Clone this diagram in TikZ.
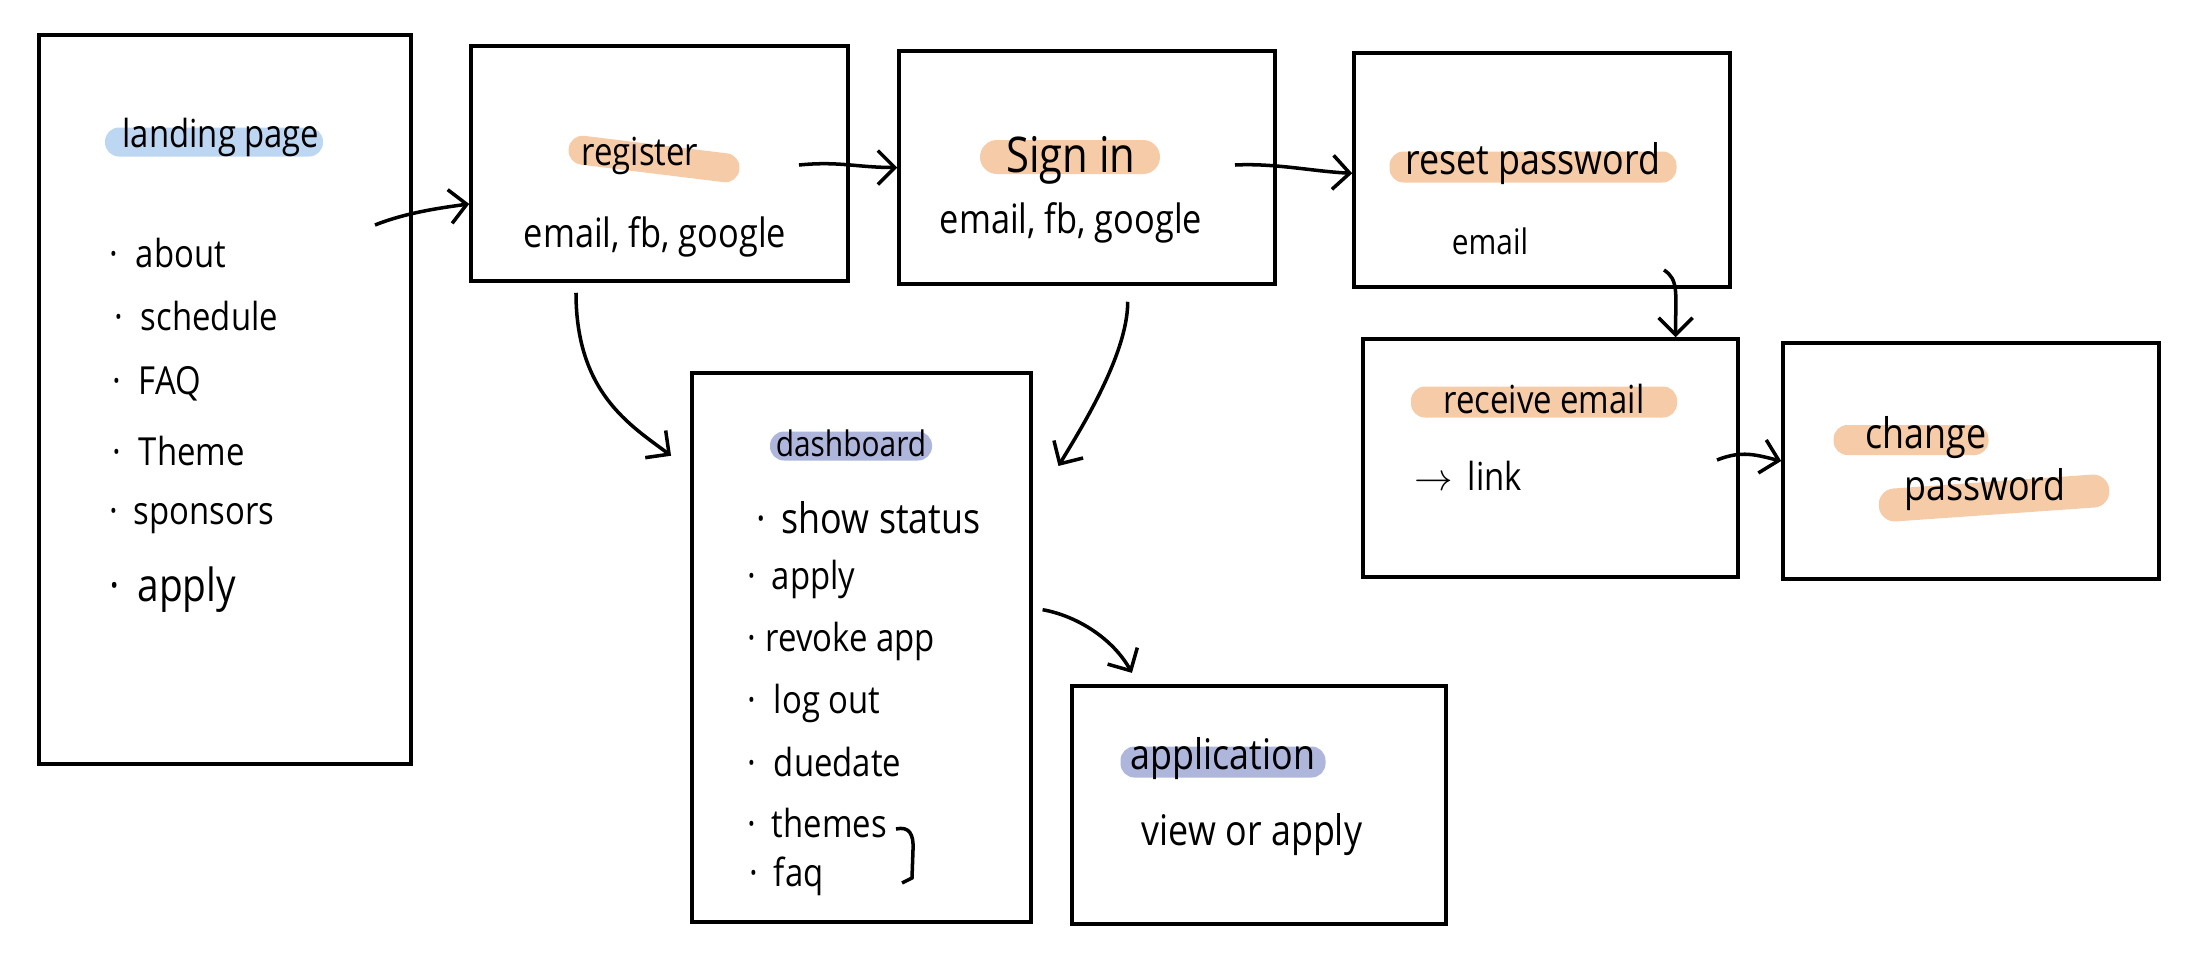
\documentclass[tikz,border=0pt]{standalone}
\usepackage{fontspec}
\setmainfont{Open Sans}[FakeStretch=0.85]
\usetikzlibrary{arrows.meta}
\definecolor{hlblue}{HTML}{BDD7F2}
\definecolor{hlpeach}{HTML}{F6CBA7}
\definecolor{hlviolet}{HTML}{AEB6DC}

\tikzset{
	screen/.style={draw, line width=1pt, inner sep=0pt},
	hl/.style={rounded corners=1.4mm, inner sep=0pt, minimum height=2.9mm},
	word/.style={font=\fontsize{11}{13}\selectfont, inner sep=1pt},
	item/.style={word, anchor=west},
	flow/.style={line width=1pt, -{Straight Barb[length=1.7mm,width=3.4mm]}},
}

\begin{document}
\begin{tikzpicture}[x=0.1mm, y=-0.1mm]
		\useasboundingbox (0,0) rectangle (2205,960);
		
		% screens
		\node[screen, minimum width=37.2mm, minimum height=72.9mm] (landing) at (225,399.5) {};
		\node[screen, minimum width=37.7mm, minimum height=23.5mm] (register) at (659.5,163.5) {};
		\node[screen, minimum width=37.6mm, minimum height=23.3mm] (signin) at (1087,167.5) {};
		\node[screen, minimum width=37.6mm, minimum height=23.4mm] (reset) at (1542,170) {};
		\node[screen, minimum width=37.5mm, minimum height=23.8mm] (receive) at (1550.5,458) {};
		\node[screen, minimum width=37.6mm, minimum height=23.6mm] (change) at (1971,461) {};
		\node[screen, minimum width=33.9mm, minimum height=54.9mm] (dashboard) at (861.5,647.5) {};
		\node[screen, minimum width=37.4mm, minimum height=23.8mm] (application) at (1259,805) {};
		
		% highlights
		\node[hl, fill=hlblue, minimum width=21.8mm] (landinghl) at (214,142) {};
		\node[hl, fill=hlpeach, minimum width=17.2mm, rotate=-7] (registerhl) at (654,159) {};
		\node[hl, fill=hlpeach, minimum width=18mm, minimum height=3.4mm, rounded corners=1.7mm] (signinhl) at (1070,157) {};
		\node[hl, fill=hlpeach, minimum width=28.7mm, minimum height=3.1mm] (resethl) at (1533,167) {};
		\node[hl, fill=hlpeach, minimum width=26.6mm, minimum height=3.1mm] (receivehl) at (1544,402) {};
		\node[hl, fill=hlpeach, minimum width=15.5mm, minimum height=3mm] (changehl) at (1911,440) {};
		\node[hl, fill=hlpeach, minimum width=23.1mm, minimum height=3.3mm, rounded corners=1.6mm, rotate=4] (passwordhl) at (1994,498) {};
		\node[hl, fill=hlviolet, minimum width=16.2mm] (dashboardhl) at (851,446) {};
		\node[hl, fill=hlviolet, minimum width=20.5mm, minimum height=3.1mm] (applicationhl) at (1223,762) {};
		
		% titles and texts
		\node[word] (landingtitle) at (221,137) {landing page};
		\node[word] (registertitle) at (640,156) {register};
		\node[word, font=\fontsize{11.5}{13}\selectfont] (registerways) at (655,237) {email, fb, google};
		\node[word, font=\fontsize{14}{16}\selectfont] (signintitle) at (1071,160) {Sign in};
		\node[word, font=\fontsize{11.5}{13}\selectfont] (signinways) at (1071,223) {email, fb, google};
		\node[word, font=\fontsize{12}{14}\selectfont] (resettitle) at (1533,164) {reset password};
		\node[word, font=\fontsize{10}{12}\selectfont] (resetmail) at (1490,241) {email};
		\node[word] (receivetitle) at (1544,399) {receive email};
		\node[item] (receivelink) at (1410,476) {$\rightarrow$\hspace{1.5mm}link};
		\node[word, font=\fontsize{12}{14}\selectfont] (changetitle) at (1926,438) {change};
		\node[word, font=\fontsize{12}{14}\selectfont] (passwordtitle) at (1985,490) {password};
		\node[word, font=\fontsize{10}{12}\selectfont] (dashboardtitle) at (851,443) {dashboard};
		\node[word, font=\fontsize{12}{14}\selectfont] (applicationtitle) at (1223,759) {application};
		\node[word, font=\fontsize{12}{14}\selectfont] (applicationways) at (1252,835) {view or apply};
		
		% landing page items
		\node[item] (about) at (105,253) {·\hspace{1.8mm}about};
		\node[item] (schedule) at (110,316) {·\hspace{1.8mm}schedule};
		\node[item] (faq) at (108,384) {·\hspace{1.8mm}FAQ};
		\node[item] (theme) at (108,451) {·\hspace{1.8mm}Theme};
		\node[item] (sponsors) at (105,519) {·\hspace{1.6mm}sponsors};
		\node[item, font=\fontsize{13}{15}\selectfont] (applyland) at (105,590) {·\hspace{1.8mm}apply};
		
		% dashboard items
		\node[item, font=\fontsize{12}{14}\selectfont] (status) at (752,518) {·\hspace{1.6mm}show status};
		\node[item] (applydash) at (743,579) {·\hspace{1.6mm}apply};
		\node[item] (revoke) at (743,641) {·\hspace{1mm}revoke app};
		\node[item] (logout) at (743,703) {·\hspace{1.8mm}log out};
		\node[item] (duedate) at (743,762) {·\hspace{1.8mm}duedate};
		\node[item] (themes) at (743,823) {·\hspace{1.6mm}themes};
		\node[item] (faqdash) at (745,876) {·\hspace{1.6mm}faq};
		\draw[line width=1pt] (896,829) .. controls (909,826) and (914,834) .. (913,850) -- (912,878) -- (902,883);
		
		% flow
		\coordinate (landingout) at (375,225);
		\coordinate (registerout) at (799,165);
		\coordinate (signinout) at (1235,165);
		\coordinate (resetout) at (1664,270);
		\coordinate (receiveout) at (1717,460);
		
		\draw[flow] (landingout) .. controls +(30,-12) and +(-30,4) .. (register.192);
		\draw[flow] (registerout) .. controls +(40,-4) and +(-40,0) .. (signin.west);
		\draw[flow] (signinout) .. controls +(40,-2) and +(-40,-2) .. (reset.181);
		\draw[flow] (resetout) .. controls +(15,10) and +(0,-45) .. (receive.44);
		\draw[flow] (receiveout) .. controls +(25,-10) and +(-25,-6) .. (change.west);
		\draw[flow, shorten <=1mm, shorten >=2.4mm] (register.235) .. controls +(0,110) and +(-60,-45) .. (dashboard.134);
		\draw[flow, shorten <=1.6mm, shorten >=5mm] (signin.289) .. controls +(0,70) and +(45,-75) .. (dashboard.39);
		\draw[flow, shorten <=1mm, shorten >=1.3mm] (dashboard.13) .. controls +(45,8) and +(-25,-45) .. (application.135);
		
\end{tikzpicture}
\end{document}
